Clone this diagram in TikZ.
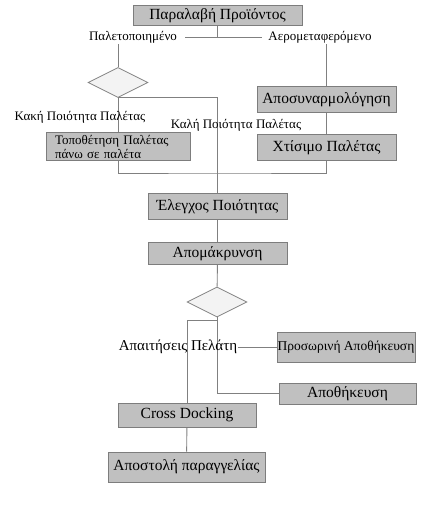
\documentclass[tikz,border=0pt]{standalone}
\usepackage{fontspec}
\setmainfont{Liberation Serif}
\usepackage{xcolor}
\usetikzlibrary{positioning,calc,shapes.geometric}
\definecolor{boxfill}{RGB}{192,192,192}
\definecolor{boxline}{RGB}{125,125,125}
\definecolor{linkgray}{RGB}{128,128,128}
\definecolor{diafill}{RGB}{243,243,243}
\tikzset{
    % Basic node styles
    procbox/.style={rectangle, draw=boxline, fill=boxfill, line width=1pt,
                    inner sep=0pt, align=center, font=\fontsize{15.5}{17}\selectfont},
    smallbox/.style={procbox, font=\fontsize{13.5}{14}\selectfont},
    decision/.style={diamond, draw=linkgray, fill=diafill, line width=0.8pt,
                     inner sep=0pt, aspect=2, minimum width=60pt, minimum height=30pt},
    lbl/.style={inner sep=1pt, font=\fontsize{13}{14}\selectfont},
    link/.style={draw=linkgray, line width=0.9pt},
}
\begin{document}
\begin{tikzpicture}[x=1pt, y=-1pt]
    \useasboundingbox (0,0) rectangle (440,518);

    % Boxes
    \node[procbox, minimum width=169pt, minimum height=20pt] (recv) at (217.5,16) {Παραλαβή Προϊόντος};
    \node[lbl] (palet) at (133,37) {Παλετοποιημένο};
    \node[lbl] (air) at (320,37) {Αερομεταφερόμενο};
    \node[decision] (dia1) at (118,82.5) {};
    \node[procbox, minimum width=139pt, minimum height=26pt] (disas) at (326.5,100) {Αποσυναρμολόγηση};
    \node[procbox, minimum width=139pt, minimum height=26pt] (build) at (326.5,148) {Χτίσιμο Παλέτας};
    \coordinate (merge) at (217.5,173);

    % Lines (upper part)
    \draw[link] (recv) -- (recv |- palet);
    \draw[link, shorten <=7pt, shorten >=5pt] (palet) -- (air);
    \draw[link] (palet.south -| dia1) -- (dia1.north);
    \draw[link] (air.south -| disas) -- (disas.north);
    \draw[link] (disas) -- (build);
    \draw[link] (dia1.south) |- (merge) -| (build.south);

    \node[smallbox, text width=126pt, inner xsep=9pt, minimum height=28pt, align=left,
          font=\fontsize{13}{14}\selectfont] (repal) at (118,147) {Τοποθέτηση Παλέτας\\πάνω σε παλέτα};
    \node[procbox, minimum width=139pt, minimum height=26pt] (qc) at (217.5,207) {Έλεγχος Ποιότητας};
    \node[procbox, minimum width=139pt, minimum height=22pt] (remove) at (217.5,253.5) {Απομάκρυνση};
    \node[decision] (dia2) at (217,302) {};
    \node[smallbox, minimum width=138pt, minimum height=30pt] (temp) at (346,347) {Προσωρινή Αποθήκευση};
    \node[procbox, minimum width=137pt, minimum height=21pt] (store) at (347.5,393.5) {Αποθήκευση};
    \node[procbox, minimum width=138pt, minimum height=24pt] (cross) at (187,415) {Cross Docking};
    \node[procbox, minimum width=157pt, minimum height=30pt] (send) at (186.5,467) {Αποστολή παραγγελίας};
    \coordinate (fork) at (217,320);

    % Lines (lower part)
    \draw[link] (dia1.south) -| (qc.north);
    \draw[link] (qc) -- (remove);
    \draw[link] (remove) -- (dia2);
    \draw[link] (dia2.south) -- (fork) -| (cross.north);
    \draw[link] (fork) |- (store.west);
    \draw[link] (cross) -- (send);

    % Labels
    \node[lbl] (bad) at (80,117) {Κακή Ποιότητα Παλέτας};
    \node[lbl] (good) at (236,125) {Καλή Ποιότητα Παλέτας};
    \node[lbl, font=\fontsize{15}{16}\selectfont] (demand) at (178,347) {Απαιτήσεις Πελάτη};
    \draw[link] (demand) -- (temp);
\end{tikzpicture}
\end{document}
